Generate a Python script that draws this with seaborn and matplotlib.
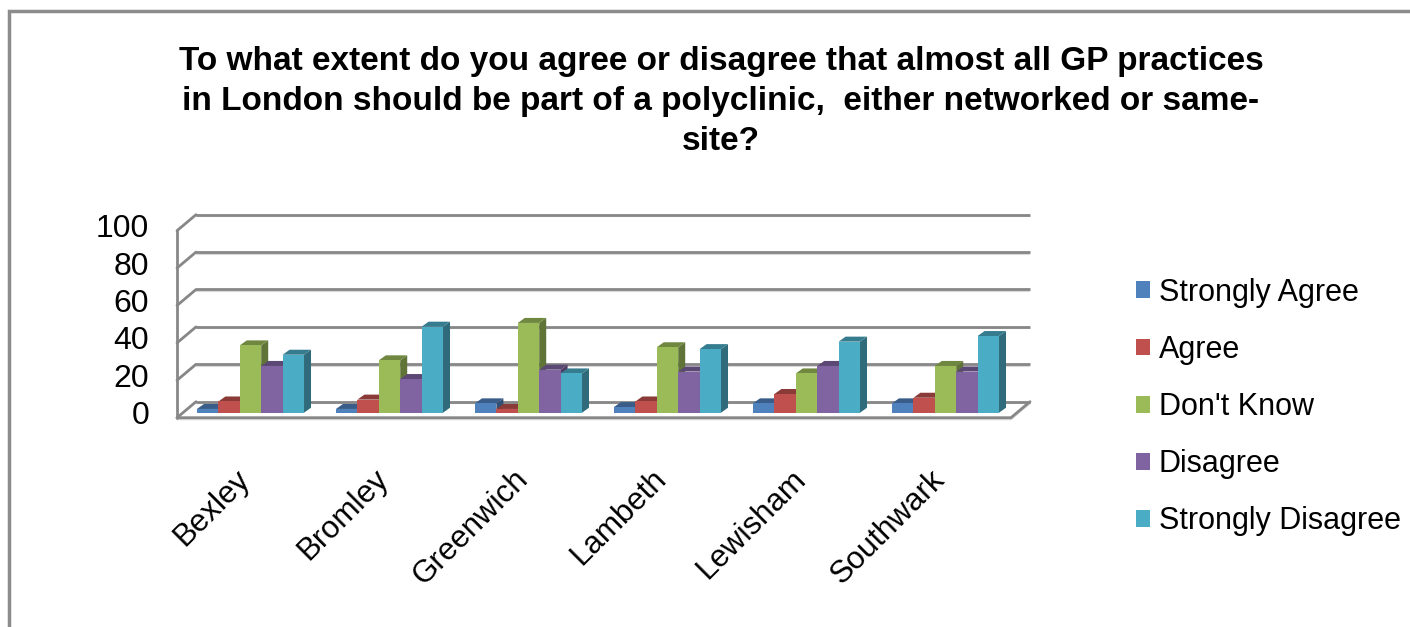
import numpy as np
import pandas as pd
import matplotlib
matplotlib.use('Agg')
import matplotlib.pyplot as plt
import matplotlib.transforms as mtransforms
from matplotlib.patches import Patch, Polygon, Rectangle
from matplotlib.colors import to_rgb
import seaborn as sns

# Survey data (percent of respondents)
boroughs = ['Bexley', 'Bromley', 'Greenwich', 'Lambeth', 'Lewisham', 'Southwark']
responses = ['Strongly Agree', 'Agree', "Don't Know", 'Disagree', 'Strongly Disagree']
strongly_agree = [2, 2, 5, 3, 5, 5]
agree = [6, 7, 2, 6, 10, 8]
dont_know = [36, 28, 48, 35, 21, 25]
disagree = [25, 18, 23, 22, 25, 22]
strongly_disagree = [31, 46, 21, 34, 38, 41]
y_ticks = [0, 20, 40, 60, 80, 100]
title = ("To what extent do you agree or disagree that almost all GP practices\n"
         "in London should be part of a polyclinic,  either networked or same-\n"
         "site?")

colors = ['#4F81BD', '#C0504D', '#9BBB59', '#8064A2', '#4BACC6']

series = [strongly_agree, agree, dont_know, disagree, strongly_disagree]
df = pd.DataFrame({
    'Borough': [b for vals in series for b in boroughs],
    'Response': [r for r, vals in zip(responses, series) for _ in vals],
    'Percent': [v for vals in series for v in vals],
})

sns.set_style('white')
plt.rcParams['font.family'] = ['Liberation Sans', 'DejaVu Sans']
plt.rcParams['text.color'] = 'black'
plt.rcParams['xtick.color'] = 'black'
plt.rcParams['ytick.color'] = 'black'

fig = plt.figure(figsize=(14.1, 6.27), dpi=100)
W, H = 1410, 627
ax = fig.add_axes([181 / W, 1 - 412.7 / H, 834 / W, 187 / H])
ax.patch.set_alpha(0)

sns.barplot(data=df, x='Borough', y='Percent', hue='Response', order=boroughs,
            hue_order=responses, palette=colors, width=0.77, saturation=1,
            ax=ax, legend=False, edgecolor='none')

ax.set_xlim(-0.5, 5.5)
ax.set_ylim(0, 100)


def shift(dx, dy):
    return ax.transData + mtransforms.ScaledTranslation(dx / 100, dy / 100, fig.dpi_scale_trans)


front = shift(-4, -5)
back = shift(15, 11)
grid_c = '#878787'
shadow_c = '#d9d9d9'

# back wall gridlines and left wall
for t in y_ticks:
    ax.plot([-0.5, 5.5], [t, t], transform=shift(15, 9.5), color=shadow_c, lw=1.5,
            zorder=0.9, clip_on=False, solid_capstyle='butt')
    ax.plot([-0.5, 5.5], [t, t], transform=back, color=grid_c, lw=2, zorder=1,
            clip_on=False, solid_capstyle='butt')
    lx0, ly0 = front.transform((-0.5, t))
    lx1, ly1 = back.transform((-0.5, t))
    ax.plot([lx0, lx1], [ly0, ly1], transform=None, color=grid_c, lw=2, zorder=1,
            clip_on=False)
ax.plot([-0.5, -0.5], [0, 100], transform=front, color=grid_c, lw=2, zorder=1, clip_on=False)

# floor
fx0 = front.transform((-0.5, 0))
fx1 = front.transform((5.5, 0))
bx1 = back.transform((5.5, 0))
ax.plot([fx0[0], fx1[0], bx1[0]], [fx0[1] - 1.5, fx1[1] - 1.5, bx1[1] - 1.5], transform=None,
        color=shadow_c, lw=1.5, zorder=0.9, clip_on=False)
ax.plot([fx0[0], fx1[0], bx1[0]], [fx0[1], fx1[1], bx1[1]], transform=None,
        color=grid_c, lw=2, zorder=1, clip_on=False)

# pseudo 3D depth on each bar, drawn left to right
ddx, ddy = 7, 5
bars = sorted(list(ax.patches), key=lambda pt: pt.get_x())
for rank, bar in enumerate(bars):
    x0, y0 = bar.get_x(), bar.get_y()
    w, h = bar.get_width(), bar.get_height()
    base = np.array(to_rgb(bar.get_facecolor()))
    p = ax.transData.transform([(x0, y0), (x0 + w, y0), (x0 + w, y0 + h), (x0, y0 + h)])
    (l, b), (r, _), _, (_, t) = p
    z = 5 + rank * 0.01
    side = Polygon([(r, b), (r + ddx, b + ddy), (r + ddx, t + ddy), (r, t)],
                   closed=True, transform=None, facecolor=base * 0.62, edgecolor='none', zorder=z)
    top = Polygon([(l, t), (r, t), (r + ddx, t + ddy), (l + ddx, t + ddy)],
                  closed=True, transform=None, facecolor=base * 0.72, edgecolor='none', zorder=z)
    ax.add_patch(side)
    ax.add_patch(top)
    bar.set_zorder(z + 0.005)

for s in ax.spines.values():
    s.set_visible(False)
ax.grid(False)
ax.set_xlabel('')
ax.set_ylabel('')
ax.set_yticks(y_ticks)
ax.set_yticklabels([str(t) for t in y_ticks])
ax.tick_params(axis='y', length=0, pad=23, labelsize=23)
ax.tick_params(axis='x', length=0, pad=37, labelsize=22.5)
lab_shift = mtransforms.ScaledTranslation(-16 / 100, 0, fig.dpi_scale_trans)
for lab in ax.get_xticklabels():
    lab.set_rotation(45)
    lab.set_ha('right')
    lab.set_va('top')
    lab.set_rotation_mode('anchor')
    lab.set_transform(lab.get_transform() + lab_shift)

fig.text(721 / W, 1 - 46 / H, title, ha='center', va='top', fontsize=24,
         fontweight='bold', linespacing=1.37, color='black')

handles = [Patch(facecolor=c, edgecolor='none', label=r) for c, r in zip(colors, responses)]
fig.legend(handles=handles, loc='center left', bbox_to_anchor=(1136 / W, 1 - 407 / H),
           frameon=False, fontsize=22, handlelength=0.47, handleheight=0.47,
           handletextpad=0.28, labelspacing=0.89, borderpad=0, borderaxespad=0)

fig.patches.append(Rectangle((9 / W, -0.1), 1.2, 1 - 11 / H + 0.1, transform=fig.transFigure,
                             fill=False, edgecolor='#8c8c8c', lw=2.5))

fig.savefig('out.png', dpi=100)
